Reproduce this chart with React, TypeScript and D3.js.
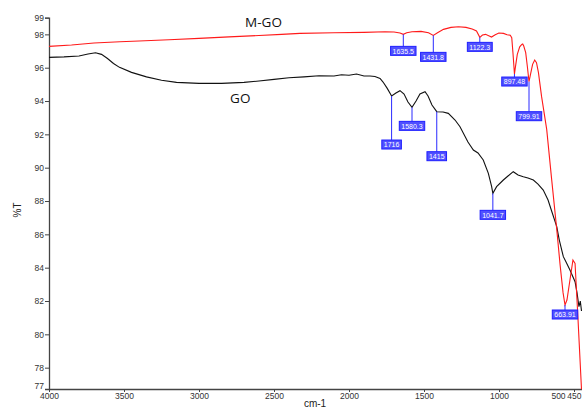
import React, { useEffect, useRef } from "react";
import * as d3 from "d3";

// M-GO (red) spectrum, wavenumber (cm-1) and %T
const wnMGO = [4000,3850,3700,3527,3400,3200,3000,2800,2600,2450,
  2327,2100,1900,1760,1700,1660,1638,1615,1580,1520,
  1470,1438,1410,1370,1320,1270,1220,1179,1150,1128,
  1110,1090,1065,1050,1025,1001,970,946,925,915,
  907,897,888,878,862,848,842,835,822,810,
  800,790,776,762,750,737,716,682,649,615,
  593,573,560,547,527,507,493,473,450];
const tMGO = [97.28,97.36,97.48,97.56,97.6,97.68,97.76,97.85,97.93,98.0,
  98.06,98.1,98.12,98.16,98.14,98.08,98.0,98.1,98.16,98.18,
  98.1,97.94,98.1,98.3,98.42,98.46,98.42,98.32,98.2,97.82,
  97.96,98.0,97.9,97.84,97.98,98.08,98.06,97.98,97.95,97.8,
  96.9,95.62,96.2,96.8,97.25,97.4,97.42,97.3,96.9,96.0,
  95.16,95.6,96.2,96.46,96.3,95.7,94.26,92.3,89.3,86.3,
  84.2,82.5,81.76,82.06,83.26,84.46,84.26,80.86,76.7];

// GO (black) spectrum
const wnGO = [4000,3900,3800,3740,3690,3650,3610,3570,3530,3450,
  3350,3250,3150,3000,2850,2700,2600,2500,2400,2300,
  2200,2100,2050,2000,1950,1900,1860,1827,1793,1773,
  1745,1716,1687,1660,1633,1607,1580,1553,1527,1493,
  1473,1447,1415,1373,1338,1293,1260,1207,1171,1140,
  1105,1071,1049,1041,1016,971,940,905,873,838,
  807,771,740,705,673,647,615,598,571,553,
  527,493,480,467,458,450];
const tGO = [96.62,96.65,96.7,96.82,96.9,96.8,96.55,96.25,96.02,95.72,
  95.45,95.25,95.12,95.06,95.06,95.12,95.2,95.3,95.4,95.45,
  95.52,95.5,95.58,95.55,95.62,95.5,95.5,95.47,95.36,95.14,
  94.76,94.3,94.48,94.62,94.42,93.94,93.62,94.0,94.42,94.56,
  94.3,93.76,93.36,93.34,93.26,92.86,92.46,91.54,91.06,90.88,
  90.46,89.66,88.86,88.46,88.86,89.26,89.5,89.76,89.56,89.46,
  89.38,89.26,89.02,88.66,88.06,87.34,86.46,85.66,84.66,84.34,
  83.86,83.16,82.5,81.66,82.0,81.4];

// peak picks
const peakLabels = ["1635.5","1431.8","1122.3","897.48","799.91","663.91","1716","1580.3","1415","1041.7"];
const peakWn = [1638,1438,1128,897,800,560,1716,1580,1415,1041];
const peakSeries = ["mgo","mgo","mgo","mgo","mgo","mgo","go","go","go","go"];

const xTicks = [4000,3500,3000,2500,2000,1500,1000,500,450];
const yTicks = [99,98,96,94,92,90,88,86,84,82,80,78];
const yBottomLabel = "77";

// leader length under each peak, px (layout only)
const leaderLen = [12,17,5,3,30,5,44,14,40,17];

export default function App(){
  const ref = useRef<SVGSVGElement>(null);

  useEffect(()=>{
    const svg = d3.select(ref.current);
    svg.selectAll("*").remove();
    const yMin = 76.72;
    const x = d3.scaleLinear().domain([4000,450]).range([49,581.5]);
    const y = d3.scaleLinear().domain([yMin,99]).range([389,17.7]);
    const font = "'Liberation Sans', Arial, sans-serif";

    // y axis
    const ya = svg.append("g").attr("transform","translate(49,0)")
      .call(d3.axisLeft(y).tickValues([...yTicks, yMin]).tickSize(4).tickPadding(1)
        .tickFormat((d:any)=> d===yMin ? yBottomLabel : String(d)));
    ya.select(".domain").attr("stroke","#444").attr("stroke-width",1.3);
    ya.selectAll(".tick line").attr("stroke","#444");
    ya.selectAll(".tick text").attr("font-family",font).attr("font-size",8.5).attr("fill","#333");
    ya.selectAll(".tick").filter((d:any)=>d===yMin).select("text").attr("dy","-0.05em");

    // x axis
    const xa = svg.append("g").attr("transform","translate(0,389)")
      .call(d3.axisBottom(x).tickValues(xTicks).tickSize(3).tickPadding(1).tickSizeOuter(0)
        .tickFormat((d:any)=>String(d)));
    xa.select(".domain").attr("stroke","#444").attr("stroke-width",1.3);
    xa.selectAll(".tick line").attr("stroke","#444");
    xa.selectAll(".tick text").attr("font-family",font).attr("font-size",8.5).attr("fill","#333");
    xa.selectAll(".tick").filter((d:any)=>d===500).select("text").attr("dx",-16);
    xa.selectAll(".tick").filter((d:any)=>d===450).select("text").attr("text-anchor","end").attr("dx",-0.5);
    xa.selectAll(".tick").filter((d:any)=>d===450).select("line").remove();

    // axis titles
    svg.append("text").attr("x",315).attr("y",407).attr("text-anchor","middle")
      .attr("font-family",font).attr("font-size",10).attr("fill","#222").text("cm-1");
    svg.append("text").attr("transform","translate(21,210) rotate(-90)").attr("text-anchor","middle")
      .attr("font-family",font).attr("font-size",10).attr("fill","#222").text("%T");

    const line = d3.line<[number,number]>().x(d=>x(d[0])).y(d=>y(d[1]));
    const mgo = wnMGO.map((w,i)=>[w,tMGO[i]] as [number,number]);
    const go = wnGO.map((w,i)=>[w,tGO[i]] as [number,number]);

    svg.append("path").datum(go).attr("d",line).attr("fill","none").attr("stroke","#111").attr("stroke-width",1.1);
    svg.append("path").datum(mgo).attr("d",line).attr("fill","none").attr("stroke","#ff1a1a").attr("stroke-width",1.1);

    // series names
    svg.append("text").attr("x",x(2570)).attr("y",27).attr("text-anchor","middle")
      .attr("font-family","'Open Sans', sans-serif").attr("font-size",13.5).attr("fill","#111").text("M-GO");
    svg.append("text").attr("x",x(2725)).attr("y",103).attr("text-anchor","middle")
      .attr("font-family","'Open Sans', sans-serif").attr("font-size",13.5).attr("fill","#111").text("GO");

    // peak labels
    peakLabels.forEach((lab,i)=>{
      const src = peakSeries[i]==="mgo" ? mgo : go;
      const pt = src.find(p=>p[0]===peakWn[i]) || src[0];
      const px = x(pt[0]), py = y(pt[1]);
      const top = py + leaderLen[i];
      svg.append("line").attr("x1",px).attr("y1",py).attr("x2",px).attr("y2",top)
        .attr("stroke","#2a2aff").attr("stroke-width",1);
      const g = svg.append("g");
      const t = g.append("text").attr("x",px).attr("y",top+7.2).attr("text-anchor","middle")
        .attr("font-family",font).attr("font-size",7).attr("fill","#fff").text(lab);
      const bw = (t.node() as SVGTextElement).getComputedTextLength() + 4;
      g.insert("rect","text").attr("x",px-bw/2).attr("y",top).attr("width",bw).attr("height",9)
        .attr("fill","#5050ff").attr("stroke","#1f1fff").attr("stroke-width",1);
    });
  },[]);

  return (
    <svg ref={ref} width={582} height={410} style={{display:"block", position:"absolute", left:0, top:0, background:"#fff"}} />
  );
}
